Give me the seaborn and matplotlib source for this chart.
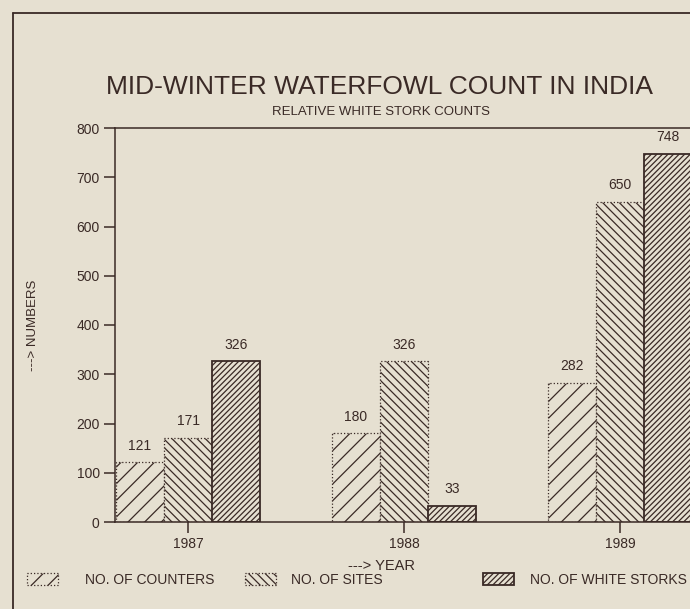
import pandas as pd
import matplotlib.pyplot as plt
import seaborn as sns
from matplotlib.lines import Line2D
from matplotlib.patches import Patch

# Mid-winter waterfowl count: white stork figures
years = ['1987', '1988', '1989']
series = ['NO. OF COUNTERS', 'NO. OF SITES', 'NO. OF WHITE STORKS']
counters = [121, 180, 282]
sites = [171, 326, 650]
storks = [326, 33, 748]
yticks = [0, 100, 200, 300, 400, 500, 600, 700, 800]

paper = '#e6e0d1'
ink = '#3a2a26'
hatches = ['//', '\\\\\\\\', '//////']
styles = [':', ':', '-']
widths = [0.9, 0.9, 1.3]

data = pd.DataFrame({
    'year': years * 3,
    'series': [series[0]] * 3 + [series[1]] * 3 + [series[2]] * 3,
    'value': counters + sites + storks,
})

sns.set_style('ticks')
plt.rcParams['font.family'] = ['Liberation Sans', 'DejaVu Sans']
plt.rcParams['hatch.linewidth'] = 0.9

fig = plt.figure(figsize=(6.9, 6.09), dpi=100, facecolor=paper)
W, H = 690, 609
ax = fig.add_axes([115 / W, 1 - 522 / H, (740 - 115) / W, (522 - 128) / H])
ax.set_facecolor(paper)

sns.barplot(data=data, x='year', y='value', hue='series', order=years,
            hue_order=series, palette=[paper] * 3, width=0.667,
            edgecolor=ink, saturation=1, legend=False, ax=ax)

for cont, h, ls, lw in zip(ax.containers, hatches, styles, widths):
    for bar in cont:
        bar.set_hatch(h)
        bar.set_edgecolor(ink)
        bar.set_linestyle(ls)
        bar.set_linewidth(lw)
    ax.bar_label(cont, padding=7, fontsize=10, color=ink)

ax.set_xlim(-0.338, (740 - 188) / 216)
ax.set_ylim(0, 800)
ax.set_yticks(yticks)
ax.tick_params(axis='both', colors=ink, labelcolor=ink, labelsize=10,
               length=8, width=1.1, direction='out', pad=3)
ax.set_xlabel('')
ax.set_ylabel('')
for s in ax.spines.values():
    s.set_color(ink)
    s.set_linewidth(1.1)

fig.text(380 / W, 1 - 87 / H, 'MID-WINTER WATERFOWL COUNT IN INDIA',
         ha='center', va='center', fontsize=19, color=ink)
fig.text(381 / W, 1 - 112 / H, 'RELATIVE WHITE STORK COUNTS',
         ha='center', va='center', fontsize=9.5, color=ink)
fig.text(33 / W, 1 - 325 / H, '---> NUMBERS', rotation=90,
         ha='center', va='center', fontsize=9.5, color=ink)
fig.text(382 / W, 1 - 566 / H, '---> YEAR',
         ha='center', va='center', fontsize=10.5, color=ink)

# legend entries spread across the bottom
legend_x = [27, 245, 483]
legend_pad = [2.0, 1.1, 1.2]
for x0, pad, name, h, ls, lw in zip(legend_x, legend_pad, series,
                                    hatches, styles, widths):
    handle = Patch(facecolor=paper, edgecolor=ink, hatch=h,
                   linestyle=ls, linewidth=lw)
    fig.legend([handle], [name], loc='center left',
               bbox_to_anchor=(x0 / W, 1 - 580 / H), frameon=False,
               handlelength=2.2, handleheight=1.0, handletextpad=pad,
               fontsize=10, labelcolor=ink, borderaxespad=0, borderpad=0)

# page frame
fig.add_artist(Line2D([13 / W, 13 / W], [0, 1 - 13 / H], color=ink, lw=1.3))
fig.add_artist(Line2D([13 / W, 1], [1 - 13 / H, 1 - 13 / H], color=ink, lw=1.3))

fig.savefig('out.png', dpi=100, facecolor=paper)
